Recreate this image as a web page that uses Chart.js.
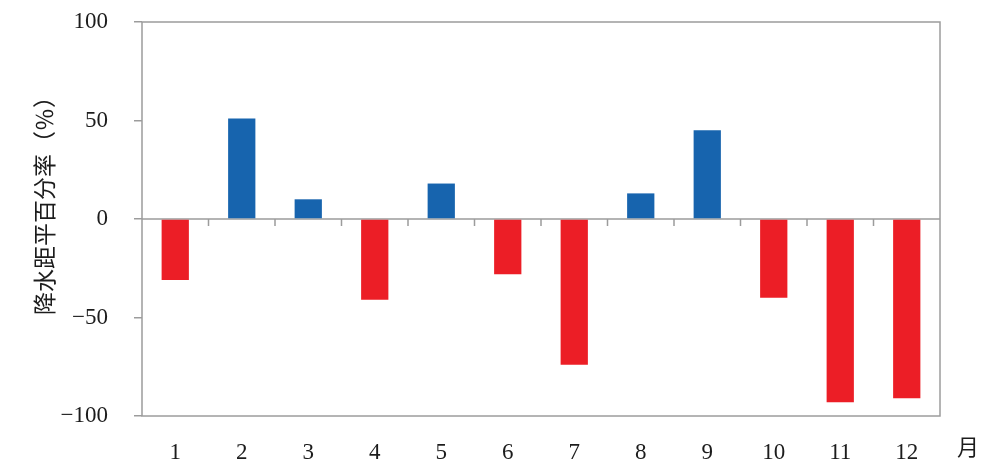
<!DOCTYPE html>
<html>
<head>
<meta charset="utf-8">
<script src="https://cdn.jsdelivr.net/npm/chart.js@4"></script>
<style>
  html, body { margin: 0; padding: 0; background: #ffffff; }
  #wrap { width: 991px; height: 461px; }
</style>
</head>
<body>
<div id="wrap"><canvas id="c" width="991" height="461"></canvas></div>
<script>
// Monthly precipitation anomaly percentage
const months = ['1', '2', '3', '4', '5', '6', '7', '8', '9', '10', '11', '12'];
const anomaly = [-31, 51, 10, -41, 18, -28, -74, 13, 45, -40, -93, -91];
const yTicks = [-100, -50, 0, 50, 100];
const yTitle = '降水距平百分率（％）';
const xUnit = '月';

const RED = '#ec1e26';
const BLUE = '#1764ae';
const AXIS = '#9c9c9c';
const TEXT = '#1c1c1c';
const NUM_FONT = '"Liberation Serif", "DejaVu Serif", serif';
const CJK_FONT = '"Noto Sans CJK SC", "Noto Sans", sans-serif';

// Frame, zero line, category ticks on the zero line, rotated title and unit label
const framePlugin = {
  id: 'frame',
  beforeDatasetsDraw(chart) {
    const { ctx, chartArea: a, scales: { x, y } } = chart;
    ctx.save();
    ctx.strokeStyle = AXIS;
    ctx.lineWidth = 1.5;
    ctx.strokeRect(a.left, a.top, a.right - a.left, a.bottom - a.top);
    const y0 = y.getPixelForValue(0);
    ctx.beginPath();
    ctx.moveTo(a.left, y0);
    ctx.lineTo(a.right, y0);
    for (let i = 1; i < months.length; i++) {
      const bx = (x.getPixelForValue(i - 1) + x.getPixelForValue(i)) / 2;
      ctx.moveTo(bx, y0);
      ctx.lineTo(bx, y0 + 7);
    }
    ctx.stroke();
    ctx.restore();
  },
  afterDraw(chart) {
    const { ctx } = chart;
    ctx.save();
    ctx.fillStyle = TEXT;
    ctx.font = '23px ' + CJK_FONT;
    ctx.textAlign = 'center';
    ctx.textBaseline = 'middle';
    ctx.translate(44, 200);
    ctx.rotate(-Math.PI / 2);
    ctx.fillText(yTitle, 0, 0);
    ctx.restore();

    ctx.save();
    ctx.fillStyle = TEXT;
    ctx.font = '22px ' + CJK_FONT;
    ctx.textAlign = 'center';
    ctx.textBaseline = 'middle';
    ctx.fillText(xUnit, 968, 447);
    ctx.restore();
  }
};

new Chart(document.getElementById('c'), {
  type: 'bar',
  data: {
    labels: months,
    datasets: [{
      data: anomaly,
      backgroundColor: anomaly.map(v => (v < 0 ? RED : BLUE)),
      borderWidth: 0,
      categoryPercentage: 1,
      barPercentage: 0.41
    }]
  },
  options: {
    responsive: false,
    animation: false,
    devicePixelRatio: 1,
    layout: { padding: { left: 0, right: 51, top: 22, bottom: 0 } },
    plugins: {
      legend: { display: false },
      tooltip: { enabled: false }
    },
    scales: {
      x: {
        type: 'category',
        offset: true,
        grid: { display: false },
        border: { display: false },
        ticks: {
          color: TEXT,
          font: { family: NUM_FONT, size: 23 },
          padding: 15,
          maxRotation: 0
        },
        afterFit(scale) {
          scale.height = 45;
          scale.paddingLeft = 0;
          scale.paddingRight = 0;
        }
      },
      y: {
        min: -100,
        max: 100,
        afterBuildTicks(scale) { scale.ticks = yTicks.map(v => ({ value: v })); },
        grid: {
          drawOnChartArea: false,
          tickLength: 8,
          color: AXIS,
          lineWidth: 1.5
        },
        border: { display: false },
        ticks: {
          color: TEXT,
          font: { family: NUM_FONT, size: 23 },
          padding: 26,
          callback: v => (v < 0 ? '\u2212' + Math.abs(v) : String(v))
        },
        afterFit(scale) {
          scale.width = 142;
          scale.paddingTop = 0;
          scale.paddingBottom = 0;
        }
      }
    }
  },
  plugins: [framePlugin]
});
</script>
</body>
</html>
